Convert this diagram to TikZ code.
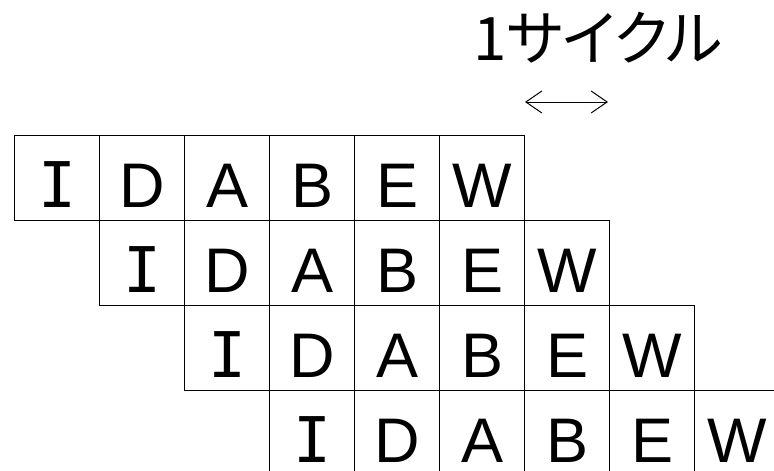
\documentclass[tikz,border=0pt]{standalone}
\usepackage{fontspec}
\setmainfont{Liberation Sans}
\newfontfamily\jpfont[RawFeature=+palt]{Noto Sans CJK JP}
\newfontfamily\monofont{DejaVu Sans Mono}
\usetikzlibrary{arrows.meta}

\newcommand{\stageI}{{\monofont I}}

\begin{document}
\begin{tikzpicture}[x=1pt, y=-1pt,
  stagebox/.style={draw, line width=1.3pt, minimum size=85pt, inner sep=0pt,
    anchor=north west, font=\fontsize{63}{63}\selectfont,
    text height=59pt, text depth=0pt},
  cyclearrow/.style={line width=1pt, {Straight Barb[length=16pt,width=22pt]}-{Straight Barb[length=16pt,width=22pt]}}]
  \useasboundingbox (0,0) rectangle (774,471);

  % Pipeline rows, each shifted by one cycle
  \foreach \r in {0,...,3} {
    \foreach \c/\s in {0/\stageI, 1/D, 2/A, 3/B, 4/E, 5/W} {
      \node[stagebox] (c\r\c) at ({14+85*(\r+\c)}, {135+85*\r}) {\s};
    }
  }

  % One cycle marker
  \coordinate (al) at (525,102);
  \coordinate (ar) at (608,102);
  \draw[cyclearrow] (al) -- (ar);
  \node[font=\jpfont\fontsize{60}{60}\selectfont] (cyc) at (598,38) {1サイクル};
\end{tikzpicture}
\end{document}
